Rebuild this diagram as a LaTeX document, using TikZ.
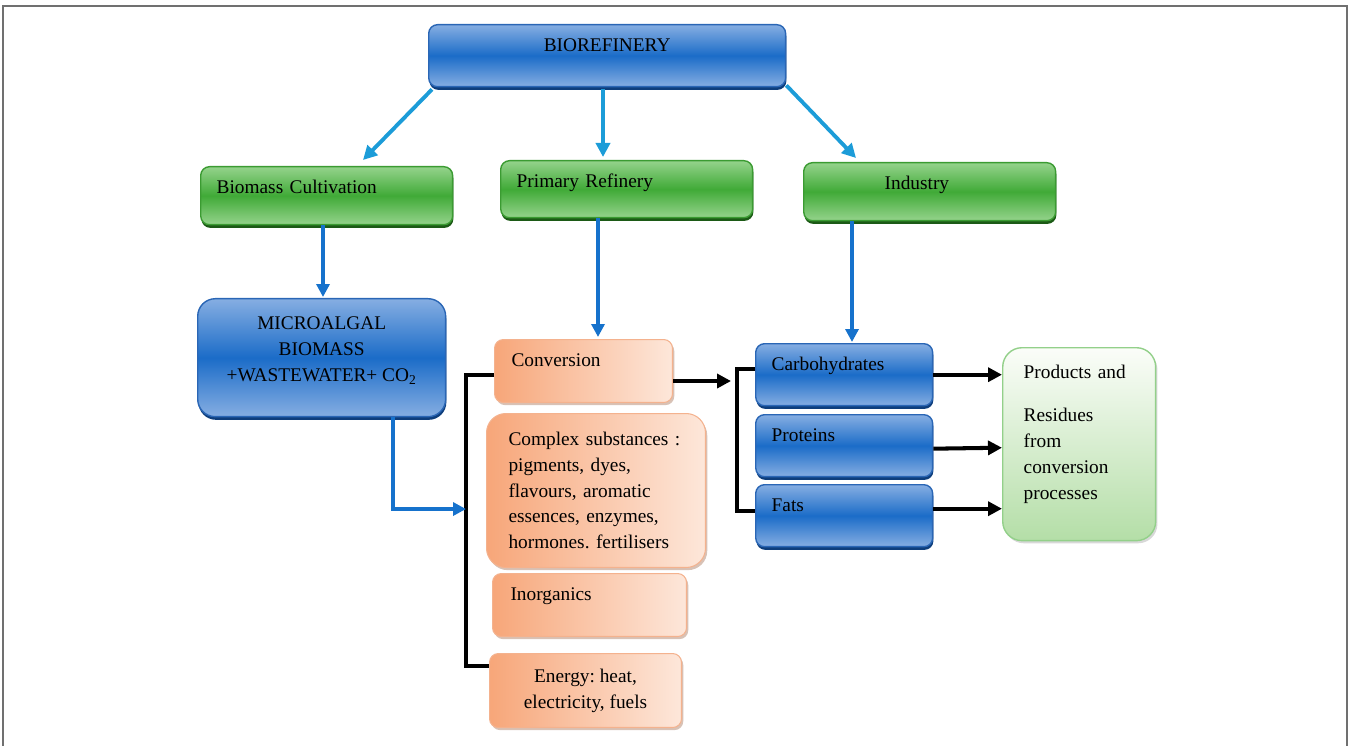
\documentclass[tikz,border=0pt]{standalone}
\usepackage{fontspec}
\setmainfont{Liberation Serif}
\usepackage{xcolor}
\usepackage{tikz}
\usetikzlibrary{arrows.meta, positioning, calc, shadows}
\definecolor{BlueTop}{HTML}{86AEE2}
\definecolor{BlueMid}{HTML}{1B6CC8}
\definecolor{BlueEdge}{HTML}{2A66B5}
\definecolor{BlueShade}{HTML}{0E3E7C}
\definecolor{GreenTop}{HTML}{95D38C}
\definecolor{GreenMid}{HTML}{40AA37}
\definecolor{GreenEdge}{HTML}{3B9B32}
\definecolor{GreenShade}{HTML}{1C5A16}
\definecolor{OrangeDeep}{HTML}{F7A679}
\definecolor{OrangePale}{HTML}{FDE7DA}
\definecolor{OrangeEdge}{HTML}{F4B28E}
\definecolor{OrangeShade}{HTML}{D8C2B6}
\definecolor{ProdTop}{HTML}{FBFDF9}
\definecolor{ProdBottom}{HTML}{B4DEA7}
\definecolor{ProdEdge}{HTML}{93D08A}
\definecolor{ArrowLight}{HTML}{1C9CD8}
\definecolor{ArrowDark}{HTML}{1672CC}
\definecolor{FrameGray}{HTML}{707070}
\frenchspacing

\begin{document}
\begin{tikzpicture}[
    x=0.02cm, y=-0.02cm,
    every node/.style={font=\fontsize{11}{14.7}\selectfont, anchor=north west},
    bluebox/.style={draw=BlueEdge, line width=0.8pt, rounded corners=5pt,
                    top color=BlueTop, bottom color=BlueTop, middle color=BlueMid,
                    drop shadow={shadow xshift=0.4pt, shadow yshift=-1.8pt, opacity=1, fill=BlueShade}},
    greenbox/.style={draw=GreenEdge, line width=0.8pt, rounded corners=5pt,
                     top color=GreenTop, bottom color=GreenTop, middle color=GreenMid,
                     drop shadow={shadow xshift=0.4pt, shadow yshift=-1.8pt, opacity=1, fill=GreenShade}},
    orangebox/.style={draw=OrangeEdge, line width=0.6pt, rounded corners=5pt,
                      left color=OrangeDeep, right color=OrangePale,
                      drop shadow={shadow xshift=1pt, shadow yshift=-1.5pt, opacity=1, fill=OrangeShade}},
    prodbox/.style={draw=ProdEdge, line width=0.8pt, rounded corners=11pt,
                    top color=ProdTop, bottom color=ProdBottom,
                    drop shadow={shadow xshift=1pt, shadow yshift=-1.5pt, opacity=0.5, fill=black!30}},
    onerow/.style={inner ysep=0pt, text height=0.54cm, text depth=#1},
    leftrow/.style={align=left, text width=#1},
    uparrow/.style={-{Triangle[length=0.28cm, width=0.28cm]}, line width=2.2pt, ArrowLight},
    downarrow/.style={-{Triangle[length=0.26cm, width=0.26cm]}, line width=2.2pt, ArrowDark},
    blkarrow/.style={-{Triangle[length=0.28cm, width=0.28cm]}, line width=2.3pt, black},
    bracket/.style={line width=2.3pt, black}
  ]
    \useasboundingbox (0,0) rectangle (1351,746);
    \draw[FrameGray, line width=0.8pt] (3,746) -- (3,6) -- (1347,6) -- (1347,746);

    % Top
    \node[bluebox, onerow=0.70cm, minimum width=7.14cm, minimum height=1.24cm] (bio) at (428,24) {BIOREFINERY};

    % Second row
    \node[greenbox, onerow=0.62cm, leftrow=4.4cm, inner xsep=0.32cm, minimum height=1.16cm] (cult) at (200,166) {Biomass Cultivation};
    \node[greenbox, onerow=0.60cm, leftrow=4.4cm, inner xsep=0.32cm, minimum height=1.14cm] (prim) at (500,160) {Primary Refinery};
    \node[greenbox, onerow=0.62cm, leftrow=1.8cm, inner xsep=1.62cm, minimum height=1.16cm] (ind) at (803,162) {Industry};

    % Biomass
    \node[bluebox, rounded corners=10pt, align=center, minimum width=4.96cm, minimum height=2.36cm] (micro) at (197,298)
      {MICROALGAL\\BIOMASS\\+WASTEWATER+ CO\textsubscript{2}\\[-5pt]\mbox{}};

    % Refinery products
    \node[orangebox, onerow=0.72cm, leftrow=2.88cm, inner xsep=0.34cm, minimum height=1.26cm] (conv) at (494,339) {Conversion};
    \node[orangebox, rounded corners=11pt, leftrow=3.5cm, inner xsep=0.44cm, minimum height=3.08cm] (cplx) at (486,413)
      {Complex substances :\\pigments, dyes,\\flavours, aromatic\\essences, enzymes,\\hormones. fertilisers};
    \node[orangebox, onerow=0.72cm, leftrow=3.16cm, inner xsep=0.36cm, minimum height=1.26cm] (inorg) at (492,573) {Inorganics};
    \node[orangebox, align=center, minimum width=3.84cm, minimum height=1.48cm] (energy) at (489,653)
      {Energy: heat,\\electricity, fuels};

    % Industry fractions
    \node[bluebox, onerow=0.70cm, leftrow=2.9cm, inner xsep=0.32cm, minimum height=1.24cm] (carb) at (755,343) {Carbohydrates};
    \node[bluebox, onerow=0.70cm, leftrow=2.9cm, inner xsep=0.32cm, minimum height=1.24cm] (prot) at (755,414) {Proteins};
    \node[bluebox, onerow=0.70cm, leftrow=2.9cm, inner xsep=0.32cm, minimum height=1.24cm] (fats) at (755,484) {Fats};

    % Output
    \node[prodbox, leftrow=2.22cm, inner xsep=0.42cm, minimum height=3.86cm] (prod) at (1002,347)
      {Products and\\[0.34cm]Residues\\from\\conversion\\processes\\[-1pt]\mbox{}};

    % Arrows from the top
    \draw[uparrow] ($(bio.south west)+(4,2)$) -- ($(cult.north west)+(163,-6)$);
    \draw[uparrow] ($(bio.south west)+(175,2)$) -- ($(prim.north west)+(103,-3)$);
    \draw[uparrow] ($(bio.south east)+(0,-2)$) -- ($(ind.north west)+(53,-4)$);

    % Arrows down
    \draw[downarrow] ($(cult.south west)+(123,0)$) -- ($(micro.north west)+(126,-1)$);
    \draw[downarrow] ($(prim.south west)+(98,0)$) -- ($(conv.north west)+(104,-2)$);
    \draw[downarrow] ($(ind.south west)+(49,0)$) -- ($(carb.north west)+(97,-1)$);

    % Brackets
    \coordinate (lbr) at ($(conv.west)+(-28,4)$);
    \draw[bracket] ($(conv.west)+(0,4)$) -- (lbr) |- ($(energy.north west)+(0,13)$);
    \draw[downarrow] ($(micro.south west)+(196,0)$) |- ($(lbr)+(0,134)$);
    \draw[bracket] ($(carb.west)+(0,-6)$) -| ($(fats.west)+(-18,-5)$) -- ($(fats.west)+(0,-5)$);
    \draw[blkarrow] ($(conv.east)+(0,10)$) -- ++(58,0);

    % To products
    \draw[blkarrow] (carb.east) -- (carb.east -| prod.west);
    \draw[blkarrow] ($(prot.east)+(0,3)$) -- ($(prot.east -| prod.west)+(0,2)$);
    \draw[blkarrow] ($(fats.east)+(0,-7)$) -- ($(fats.east -| prod.west)+(0,-7)$);
  \end{tikzpicture}
\end{document}
